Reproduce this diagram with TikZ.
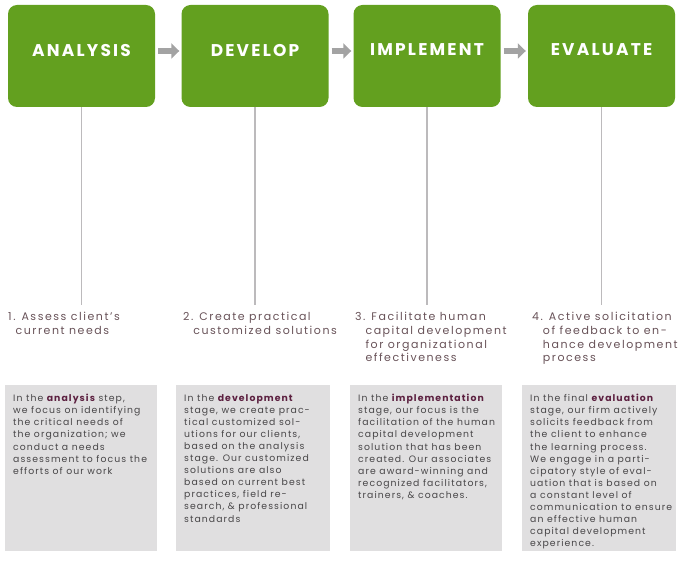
\documentclass[tikz,border=0pt]{standalone}
\usepackage{fontspec}
\setmainfont{Poppins}
\usepackage{xcolor}
\definecolor{phasegreen}{RGB}{99,160,31}
\definecolor{flowgray}{RGB}{163,163,163}
\definecolor{stemgray}{RGB}{188,186,188}
\definecolor{panelgray}{RGB}{224,223,224}
\definecolor{bodygray}{RGB}{72,70,72}
\definecolor{stepmauve}{RGB}{104,82,88}
\definecolor{keyplum}{RGB}{92,32,64}
\usetikzlibrary{arrows.meta,positioning}

\begin{document}
\begin{tikzpicture}[x=1pt,y=-1pt,
  phase/.style={fill=phasegreen,rounded corners=9pt,minimum width=147pt,minimum height=102pt,
    text depth=12pt,text=white,font=\fontsize{17}{19}\selectfont\bfseries\addfontfeature{LetterSpace=13}},
  flow/.style={-{Triangle[length=8pt,width=15pt]},line width=6pt,flowgray},
  stem/.style={stemgray,line width=1.3pt},
  steptxt/.style={anchor=north west,align=left,inner sep=2pt,stepmauve,
    font=\fontsize{11}{13.8}\selectfont\addfontfeature{LetterSpace=14}},
  panel/.style={anchor=north west,fill=panelgray,minimum height=166pt,inner sep=0pt},
  paneltxt/.style={anchor=north west,align=left,inner sep=0pt,bodygray,
    font=\fontsize{9.3}{12.1}\selectfont\addfontfeature{LetterSpace=11.5}}
]
  \useasboundingbox (0,0) rectangle (685,561);
  % Phases
  \node[phase] (ana) at (81.5,56) {ANALYSIS};
  \node[phase] (dev) at (255,56) {DEVELOP};
  \node[phase] (imp) at (427,56) {IMPLEMENT};
  \node[phase] (eva) at (601.5,56) {EVALUATE};
  % Flow arrows
  \draw[flow] ([xshift=3pt,yshift=5pt]ana.east) -- ([xshift=-2pt,yshift=5pt]dev.west);
  \draw[flow] ([xshift=3pt,yshift=5pt]dev.east) -- ([xshift=-2pt,yshift=5pt]imp.west);
  \draw[flow] ([xshift=3pt,yshift=5pt]imp.east) -- ([xshift=-2pt,yshift=5pt]eva.west);
  % Steps
  \node[steptxt] (s1) at (6,310) {1. Assess client's\\\phantom{1.}current needs};
  \node[steptxt] (s2) at (181,310) {2. Create practical\\\phantom{2.}customized solutions};
  \node[steptxt] (s3) at (353,310) {3. Facilitate human\\\phantom{3.}capital development\\\phantom{3.}for organizational\\\phantom{3.}effectiveness};
  \node[steptxt] (s4) at (530,310) {4. Active solicitation\\\phantom{4.}of feedback to en-\\\phantom{4.}hance development\\\phantom{4.}process};
  % Stems
  \draw[stem] (ana.south) -- ([yshift=5pt]ana.south |- s1.north);
  \draw[stem] (dev.south) -- ([yshift=5pt]dev.south |- s2.north);
  \draw[stem] (imp.south) -- ([yshift=5pt]imp.south |- s3.north);
  \draw[stem] (eva.south) -- ([yshift=5pt]eva.south |- s4.north);
  % Panels
  \node[panel,minimum width=152pt] (p1) at (5,385) {};
  \node[panel,minimum width=154pt] (p2) at (176,385) {};
  \node[panel,minimum width=152pt] (p3) at (350,385) {};
  \node[panel,minimum width=154pt] (p4) at (522,385) {};
  \node[paneltxt] (t1) at ([xshift=8pt,yshift=-9pt]p1.north west)
    {In the {\bfseries\color{keyplum}analysis} step,\\we focus on identifying\\the critical needs of\\the organization; we\\conduct a needs\\assessment to focus the\\efforts of our work};
  \node[paneltxt] (t2) at ([xshift=8pt,yshift=-9pt]p2.north west)
    {In the {\bfseries\color{keyplum}development}\\stage, we create prac-\\tical customized sol-\\utions for our clients,\\based on the analysis\\stage. Our customized\\solutions are also\\based on current best\\practices, field re-\\search, \& professional\\standards};
  \node[paneltxt] (t3) at ([xshift=8pt,yshift=-9pt]p3.north west)
    {In the {\bfseries\color{keyplum}implementation}\\stage, our focus is the\\facilitation of the human\\capital development\\solution that has been\\created. Our associates\\are award-winning and\\recognized facilitators,\\trainers, \& coaches.};
  \node[paneltxt] (t4) at ([xshift=8pt,yshift=-9pt]p4.north west)
    {In the final {\bfseries\color{keyplum}evaluation}\\stage, our firm actively\\solicits feedback from\\the client to enhance\\the learning process.\\We engage in a parti-\\cipatory style of eval-\\uation that is based on\\a constant level of\\communication to ensure\\an effective human\\capital development\\experience.};
\end{tikzpicture}
\end{document}
